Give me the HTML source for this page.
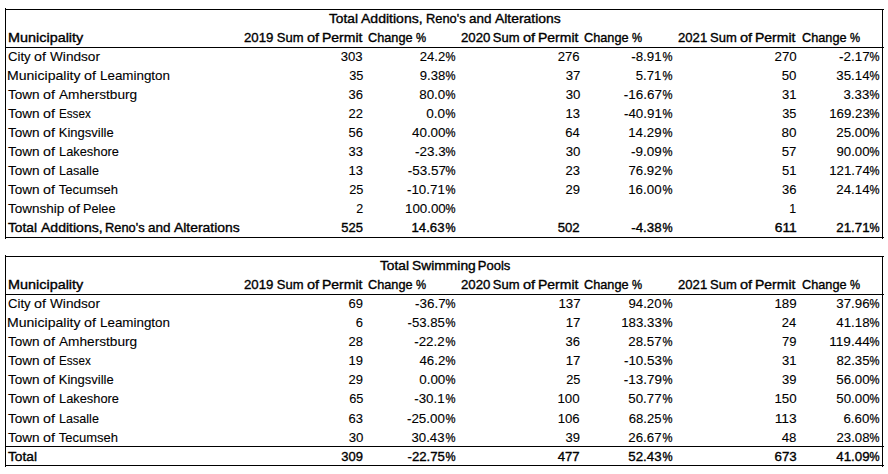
<!DOCTYPE html>
<html><head><meta charset="utf-8"><style>
html,body{margin:0;padding:0;background:#fff;}
body{width:888px;height:474px;position:relative;overflow:hidden;}
.t{position:absolute;font-family:"Liberation Sans",sans-serif;font-size:13px;line-height:15px;color:#000;white-space:nowrap;transform-origin:0 0;}
.r{transform-origin:100% 0;}
.ln{position:absolute;background:#000;}
</style></head><body>
<div class="t" style="left:328.93px;top:11px;font-weight:400;-webkit-text-stroke:0.35px #000;transform:scaleX(1.0561)">Total</div>
<div class="t" style="left:361.44px;top:11px;font-weight:400;-webkit-text-stroke:0.35px #000;transform:scaleX(1.0800)">Additions,</div>
<div class="t" style="left:425.94px;top:11px;font-weight:400;-webkit-text-stroke:0.35px #000;transform:scaleX(0.9871)">Reno's</div>
<div class="t" style="left:468.91px;top:11px;font-weight:400;-webkit-text-stroke:0.35px #000;transform:scaleX(1.0366)">and</div>
<div class="t" style="left:495.19px;top:11px;font-weight:400;-webkit-text-stroke:0.35px #000;transform:scaleX(1.0691)">Alterations</div>
<div class="t" style="left:7.89px;top:30px;font-weight:400;-webkit-text-stroke:0.35px #000;transform:scaleX(1.1082)">Municipality</div>
<div class="t" style="left:244.49px;top:30px;font-weight:400;-webkit-text-stroke:0.35px #000;transform:scaleX(1.0179)">2019</div>
<div class="t" style="left:276.75px;top:30px;font-weight:400;-webkit-text-stroke:0.35px #000;transform:scaleX(1.0000)">Sum</div>
<div class="t" style="left:306.94px;top:30px;font-weight:400;-webkit-text-stroke:0.35px #000;transform:scaleX(1.1190)">of</div>
<div class="t" style="left:322.17px;top:30px;font-weight:400;-webkit-text-stroke:0.35px #000;transform:scaleX(1.0753)">Permit</div>
<div class="t" style="left:368.31px;top:30px;font-weight:400;-webkit-text-stroke:0.35px #000;transform:scaleX(0.9777)">Change</div>
<div class="t" style="left:416.33px;top:30px;font-weight:400;-webkit-text-stroke:0.4px #000;transform:scaleX(0.8727)">%</div>
<div class="t" style="left:460.59px;top:30px;font-weight:400;-webkit-text-stroke:0.35px #000;transform:scaleX(1.0179)">2020</div>
<div class="t" style="left:492.85px;top:30px;font-weight:400;-webkit-text-stroke:0.35px #000;transform:scaleX(1.0000)">Sum</div>
<div class="t" style="left:523.04px;top:30px;font-weight:400;-webkit-text-stroke:0.35px #000;transform:scaleX(1.1190)">of</div>
<div class="t" style="left:538.27px;top:30px;font-weight:400;-webkit-text-stroke:0.35px #000;transform:scaleX(1.0753)">Permit</div>
<div class="t" style="left:584.41px;top:30px;font-weight:400;-webkit-text-stroke:0.35px #000;transform:scaleX(0.9777)">Change</div>
<div class="t" style="left:632.43px;top:30px;font-weight:400;-webkit-text-stroke:0.4px #000;transform:scaleX(0.8727)">%</div>
<div class="t" style="left:677.80px;top:30px;font-weight:400;-webkit-text-stroke:0.35px #000;transform:scaleX(1.0089)">2021</div>
<div class="t" style="left:710.05px;top:30px;font-weight:400;-webkit-text-stroke:0.35px #000;transform:scaleX(1.0000)">Sum</div>
<div class="t" style="left:740.24px;top:30px;font-weight:400;-webkit-text-stroke:0.35px #000;transform:scaleX(1.1190)">of</div>
<div class="t" style="left:755.47px;top:30px;font-weight:400;-webkit-text-stroke:0.35px #000;transform:scaleX(1.0753)">Permit</div>
<div class="t" style="left:801.51px;top:30px;font-weight:400;-webkit-text-stroke:0.35px #000;transform:scaleX(0.9777)">Change</div>
<div class="t" style="left:849.53px;top:30px;font-weight:400;-webkit-text-stroke:0.4px #000;transform:scaleX(0.8727)">%</div>
<div class="t" style="left:7.99px;top:49px;font-weight:400;-webkit-text-stroke:0.1px #000;transform:scaleX(1.0115)">City</div>
<div class="t" style="left:33.95px;top:49px;font-weight:400;-webkit-text-stroke:0.1px #000;transform:scaleX(1.0952)">of</div>
<div class="t" style="left:49.75px;top:49px;font-weight:400;-webkit-text-stroke:0.1px #000;transform:scaleX(1.0474)">Windsor</div>
<div class="t r" style="right:524.94px;top:49px;font-weight:400;-webkit-text-stroke:0.1px #000;transform:scaleX(1.0120)">303</div>
<div class="t r" style="right:442.98px;top:49px;font-weight:400;-webkit-text-stroke:0.1px #000;transform:scaleX(1.0103)">24.2</div>
<div class="t r" style="right:432.53px;top:49px;font-weight:400;-webkit-text-stroke:0.25px #000;transform:scaleX(0.8651)">%</div>
<div class="t r" style="right:308.04px;top:49px;font-weight:400;-webkit-text-stroke:0.1px #000;transform:scaleX(1.0120)">276</div>
<div class="t r" style="right:226.29px;top:49px;font-weight:400;-webkit-text-stroke:0.1px #000;transform:scaleX(1.0263)">-8.91</div>
<div class="t r" style="right:215.93px;top:49px;font-weight:400;-webkit-text-stroke:0.25px #000;transform:scaleX(0.8651)">%</div>
<div class="t r" style="right:91.44px;top:49px;font-weight:400;-webkit-text-stroke:0.1px #000;transform:scaleX(1.0241)">270</div>
<div class="t r" style="right:18.34px;top:49px;font-weight:400;-webkit-text-stroke:0.1px #000;transform:scaleX(1.0351)">-2.17</div>
<div class="t r" style="right:8.23px;top:49px;font-weight:400;-webkit-text-stroke:0.25px #000;transform:scaleX(0.8651)">%</div>
<div class="t" style="left:7.42px;top:68px;font-weight:400;-webkit-text-stroke:0.1px #000;transform:scaleX(1.0821)">Municipality</div>
<div class="t" style="left:84.45px;top:68px;font-weight:400;-webkit-text-stroke:0.1px #000;transform:scaleX(1.0952)">of</div>
<div class="t" style="left:99.72px;top:68px;font-weight:400;-webkit-text-stroke:0.1px #000;transform:scaleX(1.0302)">Leamington</div>
<div class="t r" style="right:524.94px;top:68px;font-weight:400;-webkit-text-stroke:0.1px #000;transform:scaleX(0.9815)">35</div>
<div class="t r" style="right:442.73px;top:68px;font-weight:400;-webkit-text-stroke:0.1px #000;transform:scaleX(1.0103)">9.38</div>
<div class="t r" style="right:432.53px;top:68px;font-weight:400;-webkit-text-stroke:0.25px #000;transform:scaleX(0.8651)">%</div>
<div class="t r" style="right:308.02px;top:68px;font-weight:400;-webkit-text-stroke:0.1px #000;transform:scaleX(1.0185)">37</div>
<div class="t r" style="right:226.38px;top:68px;font-weight:400;-webkit-text-stroke:0.1px #000;transform:scaleX(1.0103)">5.71</div>
<div class="t r" style="right:215.93px;top:68px;font-weight:400;-webkit-text-stroke:0.25px #000;transform:scaleX(0.8651)">%</div>
<div class="t r" style="right:91.42px;top:68px;font-weight:400;-webkit-text-stroke:0.1px #000;transform:scaleX(1.0185)">50</div>
<div class="t r" style="right:18.45px;top:68px;font-weight:400;-webkit-text-stroke:0.1px #000;transform:scaleX(1.0236)">35.14</div>
<div class="t r" style="right:8.23px;top:68px;font-weight:400;-webkit-text-stroke:0.25px #000;transform:scaleX(0.8651)">%</div>
<div class="t" style="left:8.24px;top:87px;font-weight:400;-webkit-text-stroke:0.1px #000;transform:scaleX(1.0427)">Town</div>
<div class="t" style="left:43.20px;top:87px;font-weight:400;-webkit-text-stroke:0.1px #000;transform:scaleX(1.0952)">of</div>
<div class="t" style="left:58.75px;top:87px;font-weight:400;-webkit-text-stroke:0.1px #000;transform:scaleX(1.0508)">Amherstburg</div>
<div class="t r" style="right:524.93px;top:87px;font-weight:400;-webkit-text-stroke:0.1px #000;transform:scaleX(1.0000)">36</div>
<div class="t r" style="right:442.72px;top:87px;font-weight:400;-webkit-text-stroke:0.1px #000;transform:scaleX(1.0309)">80.0</div>
<div class="t r" style="right:432.53px;top:87px;font-weight:400;-webkit-text-stroke:0.25px #000;transform:scaleX(0.8651)">%</div>
<div class="t r" style="right:308.02px;top:87px;font-weight:400;-webkit-text-stroke:0.1px #000;transform:scaleX(1.0185)">30</div>
<div class="t r" style="right:225.80px;top:87px;font-weight:400;-webkit-text-stroke:0.1px #000;transform:scaleX(1.0350)">-16.67</div>
<div class="t r" style="right:215.93px;top:87px;font-weight:400;-webkit-text-stroke:0.25px #000;transform:scaleX(0.8651)">%</div>
<div class="t r" style="right:91.43px;top:87px;font-weight:400;-webkit-text-stroke:0.1px #000;transform:scaleX(1.0000)">31</div>
<div class="t r" style="right:18.43px;top:87px;font-weight:400;-webkit-text-stroke:0.1px #000;transform:scaleX(1.0206)">3.33</div>
<div class="t r" style="right:8.23px;top:87px;font-weight:400;-webkit-text-stroke:0.25px #000;transform:scaleX(0.8651)">%</div>
<div class="t" style="left:8.24px;top:106px;font-weight:400;-webkit-text-stroke:0.1px #000;transform:scaleX(1.0427)">Town</div>
<div class="t" style="left:43.20px;top:106px;font-weight:400;-webkit-text-stroke:0.1px #000;transform:scaleX(1.0952)">of</div>
<div class="t" style="left:58.85px;top:106px;font-weight:400;-webkit-text-stroke:0.1px #000;transform:scaleX(0.8978)">Essex</div>
<div class="t r" style="right:524.93px;top:106px;font-weight:400;-webkit-text-stroke:0.1px #000;transform:scaleX(1.0000)">22</div>
<div class="t r" style="right:442.45px;top:106px;font-weight:400;-webkit-text-stroke:0.1px #000;transform:scaleX(1.0441)">0.0</div>
<div class="t r" style="right:432.53px;top:106px;font-weight:400;-webkit-text-stroke:0.25px #000;transform:scaleX(0.8651)">%</div>
<div class="t r" style="right:308.03px;top:106px;font-weight:400;-webkit-text-stroke:0.1px #000;transform:scaleX(1.0000)">13</div>
<div class="t r" style="right:226.06px;top:106px;font-weight:400;-webkit-text-stroke:0.1px #000;transform:scaleX(1.0280)">-40.91</div>
<div class="t r" style="right:215.93px;top:106px;font-weight:400;-webkit-text-stroke:0.25px #000;transform:scaleX(0.8651)">%</div>
<div class="t r" style="right:91.44px;top:106px;font-weight:400;-webkit-text-stroke:0.1px #000;transform:scaleX(0.9815)">35</div>
<div class="t r" style="right:18.47px;top:106px;font-weight:400;-webkit-text-stroke:0.1px #000;transform:scaleX(1.0196)">169.23</div>
<div class="t r" style="right:8.23px;top:106px;font-weight:400;-webkit-text-stroke:0.25px #000;transform:scaleX(0.8651)">%</div>
<div class="t" style="left:8.24px;top:125px;font-weight:400;-webkit-text-stroke:0.1px #000;transform:scaleX(1.0427)">Town</div>
<div class="t" style="left:43.20px;top:125px;font-weight:400;-webkit-text-stroke:0.1px #000;transform:scaleX(1.0952)">of</div>
<div class="t" style="left:58.75px;top:125px;font-weight:400;-webkit-text-stroke:0.1px #000;transform:scaleX(1.0000)">Kingsville</div>
<div class="t r" style="right:524.93px;top:125px;font-weight:400;-webkit-text-stroke:0.1px #000;transform:scaleX(1.0000)">56</div>
<div class="t r" style="right:442.74px;top:125px;font-weight:400;-webkit-text-stroke:0.1px #000;transform:scaleX(1.0315)">40.00</div>
<div class="t r" style="right:432.53px;top:125px;font-weight:400;-webkit-text-stroke:0.25px #000;transform:scaleX(0.8651)">%</div>
<div class="t r" style="right:308.28px;top:125px;font-weight:400;-webkit-text-stroke:0.1px #000;transform:scaleX(1.0000)">64</div>
<div class="t r" style="right:226.14px;top:125px;font-weight:400;-webkit-text-stroke:0.1px #000;transform:scaleX(1.0242)">14.29</div>
<div class="t r" style="right:215.93px;top:125px;font-weight:400;-webkit-text-stroke:0.25px #000;transform:scaleX(0.8651)">%</div>
<div class="t r" style="right:91.41px;top:125px;font-weight:400;-webkit-text-stroke:0.1px #000;transform:scaleX(1.0370)">80</div>
<div class="t r" style="right:18.44px;top:125px;font-weight:400;-webkit-text-stroke:0.1px #000;transform:scaleX(1.0238)">25.00</div>
<div class="t r" style="right:8.23px;top:125px;font-weight:400;-webkit-text-stroke:0.25px #000;transform:scaleX(0.8651)">%</div>
<div class="t" style="left:8.24px;top:144px;font-weight:400;-webkit-text-stroke:0.1px #000;transform:scaleX(1.0427)">Town</div>
<div class="t" style="left:43.20px;top:144px;font-weight:400;-webkit-text-stroke:0.1px #000;transform:scaleX(1.0952)">of</div>
<div class="t" style="left:58.76px;top:144px;font-weight:400;-webkit-text-stroke:0.1px #000;transform:scaleX(0.9873)">Lakeshore</div>
<div class="t r" style="right:524.93px;top:144px;font-weight:400;-webkit-text-stroke:0.1px #000;transform:scaleX(1.0000)">33</div>
<div class="t r" style="right:442.64px;top:144px;font-weight:400;-webkit-text-stroke:0.1px #000;transform:scaleX(1.0351)">-23.3</div>
<div class="t r" style="right:432.53px;top:144px;font-weight:400;-webkit-text-stroke:0.25px #000;transform:scaleX(0.8651)">%</div>
<div class="t r" style="right:308.02px;top:144px;font-weight:400;-webkit-text-stroke:0.1px #000;transform:scaleX(1.0185)">30</div>
<div class="t r" style="right:226.04px;top:144px;font-weight:400;-webkit-text-stroke:0.1px #000;transform:scaleX(1.0351)">-9.09</div>
<div class="t r" style="right:215.93px;top:144px;font-weight:400;-webkit-text-stroke:0.25px #000;transform:scaleX(0.8651)">%</div>
<div class="t r" style="right:91.42px;top:144px;font-weight:400;-webkit-text-stroke:0.1px #000;transform:scaleX(1.0185)">57</div>
<div class="t r" style="right:18.44px;top:144px;font-weight:400;-webkit-text-stroke:0.1px #000;transform:scaleX(1.0159)">90.00</div>
<div class="t r" style="right:8.23px;top:144px;font-weight:400;-webkit-text-stroke:0.25px #000;transform:scaleX(0.8651)">%</div>
<div class="t" style="left:8.24px;top:163px;font-weight:400;-webkit-text-stroke:0.1px #000;transform:scaleX(1.0427)">Town</div>
<div class="t" style="left:43.20px;top:163px;font-weight:400;-webkit-text-stroke:0.1px #000;transform:scaleX(1.0952)">of</div>
<div class="t" style="left:58.78px;top:163px;font-weight:400;-webkit-text-stroke:0.1px #000;transform:scaleX(0.9686)">Lasalle</div>
<div class="t r" style="right:524.93px;top:163px;font-weight:400;-webkit-text-stroke:0.1px #000;transform:scaleX(1.0000)">13</div>
<div class="t r" style="right:442.40px;top:163px;font-weight:400;-webkit-text-stroke:0.1px #000;transform:scaleX(1.0350)">-53.57</div>
<div class="t r" style="right:432.53px;top:163px;font-weight:400;-webkit-text-stroke:0.25px #000;transform:scaleX(0.8651)">%</div>
<div class="t r" style="right:308.03px;top:163px;font-weight:400;-webkit-text-stroke:0.1px #000;transform:scaleX(1.0000)">23</div>
<div class="t r" style="right:226.39px;top:163px;font-weight:400;-webkit-text-stroke:0.1px #000;transform:scaleX(1.0159)">76.92</div>
<div class="t r" style="right:215.93px;top:163px;font-weight:400;-webkit-text-stroke:0.25px #000;transform:scaleX(0.8651)">%</div>
<div class="t r" style="right:91.43px;top:163px;font-weight:400;-webkit-text-stroke:0.1px #000;transform:scaleX(1.0000)">51</div>
<div class="t r" style="right:18.48px;top:163px;font-weight:400;-webkit-text-stroke:0.1px #000;transform:scaleX(1.0195)">121.74</div>
<div class="t r" style="right:8.23px;top:163px;font-weight:400;-webkit-text-stroke:0.25px #000;transform:scaleX(0.8651)">%</div>
<div class="t" style="left:8.24px;top:182px;font-weight:400;-webkit-text-stroke:0.1px #000;transform:scaleX(1.0427)">Town</div>
<div class="t" style="left:43.20px;top:182px;font-weight:400;-webkit-text-stroke:0.1px #000;transform:scaleX(1.0952)">of</div>
<div class="t" style="left:58.75px;top:182px;font-weight:400;-webkit-text-stroke:0.1px #000;transform:scaleX(1.0000)">Tecumseh</div>
<div class="t r" style="right:524.94px;top:182px;font-weight:400;-webkit-text-stroke:0.1px #000;transform:scaleX(0.9815)">25</div>
<div class="t r" style="right:442.66px;top:182px;font-weight:400;-webkit-text-stroke:0.1px #000;transform:scaleX(1.0280)">-10.71</div>
<div class="t r" style="right:432.53px;top:182px;font-weight:400;-webkit-text-stroke:0.25px #000;transform:scaleX(0.8651)">%</div>
<div class="t r" style="right:308.03px;top:182px;font-weight:400;-webkit-text-stroke:0.1px #000;transform:scaleX(1.0000)">29</div>
<div class="t r" style="right:226.14px;top:182px;font-weight:400;-webkit-text-stroke:0.1px #000;transform:scaleX(1.0242)">16.00</div>
<div class="t r" style="right:215.93px;top:182px;font-weight:400;-webkit-text-stroke:0.25px #000;transform:scaleX(0.8651)">%</div>
<div class="t r" style="right:91.43px;top:182px;font-weight:400;-webkit-text-stroke:0.1px #000;transform:scaleX(1.0000)">36</div>
<div class="t r" style="right:18.45px;top:182px;font-weight:400;-webkit-text-stroke:0.1px #000;transform:scaleX(1.0236)">24.14</div>
<div class="t r" style="right:8.23px;top:182px;font-weight:400;-webkit-text-stroke:0.25px #000;transform:scaleX(0.8651)">%</div>
<div class="t" style="left:8.24px;top:201px;font-weight:400;-webkit-text-stroke:0.1px #000;transform:scaleX(1.0374)">Township</div>
<div class="t" style="left:67.70px;top:201px;font-weight:400;-webkit-text-stroke:0.1px #000;transform:scaleX(1.0952)">of</div>
<div class="t" style="left:83.27px;top:201px;font-weight:400;-webkit-text-stroke:0.1px #000;transform:scaleX(0.9764)">Pelee</div>
<div class="t r" style="right:524.93px;top:201px;font-weight:400;-webkit-text-stroke:0.1px #000;transform:scaleX(0.9600)">2</div>
<div class="t r" style="right:442.52px;top:201px;font-weight:400;-webkit-text-stroke:0.1px #000;transform:scaleX(1.0261)">100.00</div>
<div class="t r" style="right:432.53px;top:201px;font-weight:400;-webkit-text-stroke:0.25px #000;transform:scaleX(0.8651)">%</div>
<div class="t r" style="right:91.44px;top:201px;font-weight:400;-webkit-text-stroke:0.1px #000;transform:scaleX(0.9565)">1</div>
<div class="t" style="left:8.20px;top:220px;font-weight:400;-webkit-text-stroke:0.35px #000;transform:scaleX(1.0561)">Total</div>
<div class="t" style="left:40.72px;top:220px;font-weight:400;-webkit-text-stroke:0.35px #000;transform:scaleX(1.0800)">Additions,</div>
<div class="t" style="left:105.21px;top:220px;font-weight:400;-webkit-text-stroke:0.35px #000;transform:scaleX(0.9871)">Reno's</div>
<div class="t" style="left:148.18px;top:220px;font-weight:400;-webkit-text-stroke:0.35px #000;transform:scaleX(1.0366)">and</div>
<div class="t" style="left:174.47px;top:220px;font-weight:400;-webkit-text-stroke:0.35px #000;transform:scaleX(1.0691)">Alterations</div>
<div class="t r" style="right:524.95px;top:220px;font-weight:400;-webkit-text-stroke:0.35px #000;transform:scaleX(1.0000)">525</div>
<div class="t r" style="right:443.00px;top:220px;font-weight:400;-webkit-text-stroke:0.35px #000;transform:scaleX(1.0159)">14.63</div>
<div class="t r" style="right:432.53px;top:220px;font-weight:400;-webkit-text-stroke:0.4px #000;transform:scaleX(0.8727)">%</div>
<div class="t r" style="right:308.04px;top:220px;font-weight:400;-webkit-text-stroke:0.35px #000;transform:scaleX(1.0120)">502</div>
<div class="t r" style="right:226.30px;top:220px;font-weight:400;-webkit-text-stroke:0.35px #000;transform:scaleX(1.0261)">-4.38</div>
<div class="t r" style="right:215.93px;top:220px;font-weight:400;-webkit-text-stroke:0.4px #000;transform:scaleX(0.8727)">%</div>
<div class="t r" style="right:91.38px;top:220px;font-weight:400;-webkit-text-stroke:0.35px #000;transform:scaleX(1.0633)">611</div>
<div class="t r" style="right:18.69px;top:220px;font-weight:400;-webkit-text-stroke:0.35px #000;transform:scaleX(1.0238)">21.71</div>
<div class="t r" style="right:8.23px;top:220px;font-weight:400;-webkit-text-stroke:0.4px #000;transform:scaleX(0.8727)">%</div>
<div class="t" style="left:379.55px;top:258px;font-weight:400;-webkit-text-stroke:0.35px #000;transform:scaleX(1.0561)">Total</div>
<div class="t" style="left:411.52px;top:258px;font-weight:400;-webkit-text-stroke:0.35px #000;transform:scaleX(1.0638)">Swimming</div>
<div class="t" style="left:477.80px;top:258px;font-weight:400;-webkit-text-stroke:0.35px #000;transform:scaleX(1.0000)">Pools</div>
<div class="t" style="left:7.89px;top:277px;font-weight:400;-webkit-text-stroke:0.35px #000;transform:scaleX(1.1082)">Municipality</div>
<div class="t" style="left:244.49px;top:277px;font-weight:400;-webkit-text-stroke:0.35px #000;transform:scaleX(1.0179)">2019</div>
<div class="t" style="left:276.75px;top:277px;font-weight:400;-webkit-text-stroke:0.35px #000;transform:scaleX(1.0000)">Sum</div>
<div class="t" style="left:306.94px;top:277px;font-weight:400;-webkit-text-stroke:0.35px #000;transform:scaleX(1.1190)">of</div>
<div class="t" style="left:322.17px;top:277px;font-weight:400;-webkit-text-stroke:0.35px #000;transform:scaleX(1.0753)">Permit</div>
<div class="t" style="left:368.31px;top:277px;font-weight:400;-webkit-text-stroke:0.35px #000;transform:scaleX(0.9777)">Change</div>
<div class="t" style="left:416.33px;top:277px;font-weight:400;-webkit-text-stroke:0.4px #000;transform:scaleX(0.8727)">%</div>
<div class="t" style="left:460.59px;top:277px;font-weight:400;-webkit-text-stroke:0.35px #000;transform:scaleX(1.0179)">2020</div>
<div class="t" style="left:492.85px;top:277px;font-weight:400;-webkit-text-stroke:0.35px #000;transform:scaleX(1.0000)">Sum</div>
<div class="t" style="left:523.04px;top:277px;font-weight:400;-webkit-text-stroke:0.35px #000;transform:scaleX(1.1190)">of</div>
<div class="t" style="left:538.27px;top:277px;font-weight:400;-webkit-text-stroke:0.35px #000;transform:scaleX(1.0753)">Permit</div>
<div class="t" style="left:584.41px;top:277px;font-weight:400;-webkit-text-stroke:0.35px #000;transform:scaleX(0.9777)">Change</div>
<div class="t" style="left:632.43px;top:277px;font-weight:400;-webkit-text-stroke:0.4px #000;transform:scaleX(0.8727)">%</div>
<div class="t" style="left:677.80px;top:277px;font-weight:400;-webkit-text-stroke:0.35px #000;transform:scaleX(1.0089)">2021</div>
<div class="t" style="left:710.05px;top:277px;font-weight:400;-webkit-text-stroke:0.35px #000;transform:scaleX(1.0000)">Sum</div>
<div class="t" style="left:740.24px;top:277px;font-weight:400;-webkit-text-stroke:0.35px #000;transform:scaleX(1.1190)">of</div>
<div class="t" style="left:755.47px;top:277px;font-weight:400;-webkit-text-stroke:0.35px #000;transform:scaleX(1.0753)">Permit</div>
<div class="t" style="left:801.51px;top:277px;font-weight:400;-webkit-text-stroke:0.35px #000;transform:scaleX(0.9777)">Change</div>
<div class="t" style="left:849.53px;top:277px;font-weight:400;-webkit-text-stroke:0.4px #000;transform:scaleX(0.8727)">%</div>
<div class="t" style="left:7.99px;top:296px;font-weight:400;-webkit-text-stroke:0.1px #000;transform:scaleX(1.0115)">City</div>
<div class="t" style="left:33.95px;top:296px;font-weight:400;-webkit-text-stroke:0.1px #000;transform:scaleX(1.0952)">of</div>
<div class="t" style="left:49.75px;top:296px;font-weight:400;-webkit-text-stroke:0.1px #000;transform:scaleX(1.0474)">Windsor</div>
<div class="t r" style="right:524.93px;top:296px;font-weight:400;-webkit-text-stroke:0.1px #000;transform:scaleX(1.0000)">69</div>
<div class="t r" style="right:442.64px;top:296px;font-weight:400;-webkit-text-stroke:0.1px #000;transform:scaleX(1.0351)">-36.7</div>
<div class="t r" style="right:432.53px;top:296px;font-weight:400;-webkit-text-stroke:0.25px #000;transform:scaleX(0.8651)">%</div>
<div class="t r" style="right:307.78px;top:296px;font-weight:400;-webkit-text-stroke:0.1px #000;transform:scaleX(1.0250)">137</div>
<div class="t r" style="right:226.14px;top:296px;font-weight:400;-webkit-text-stroke:0.1px #000;transform:scaleX(1.0159)">94.20</div>
<div class="t r" style="right:215.93px;top:296px;font-weight:400;-webkit-text-stroke:0.25px #000;transform:scaleX(0.8651)">%</div>
<div class="t r" style="right:91.18px;top:296px;font-weight:400;-webkit-text-stroke:0.1px #000;transform:scaleX(1.0250)">189</div>
<div class="t r" style="right:18.44px;top:296px;font-weight:400;-webkit-text-stroke:0.1px #000;transform:scaleX(1.0238)">37.96</div>
<div class="t r" style="right:8.23px;top:296px;font-weight:400;-webkit-text-stroke:0.25px #000;transform:scaleX(0.8651)">%</div>
<div class="t" style="left:7.42px;top:315px;font-weight:400;-webkit-text-stroke:0.1px #000;transform:scaleX(1.0821)">Municipality</div>
<div class="t" style="left:84.45px;top:315px;font-weight:400;-webkit-text-stroke:0.1px #000;transform:scaleX(1.0952)">of</div>
<div class="t" style="left:99.72px;top:315px;font-weight:400;-webkit-text-stroke:0.1px #000;transform:scaleX(1.0302)">Leamington</div>
<div class="t r" style="right:524.92px;top:315px;font-weight:400;-webkit-text-stroke:0.1px #000;transform:scaleX(1.0000)">6</div>
<div class="t r" style="right:443.17px;top:315px;font-weight:400;-webkit-text-stroke:0.1px #000;transform:scaleX(1.0139)">-53.85</div>
<div class="t r" style="right:432.53px;top:315px;font-weight:400;-webkit-text-stroke:0.25px #000;transform:scaleX(0.8651)">%</div>
<div class="t r" style="right:308.02px;top:315px;font-weight:400;-webkit-text-stroke:0.1px #000;transform:scaleX(1.0192)">17</div>
<div class="t r" style="right:226.17px;top:315px;font-weight:400;-webkit-text-stroke:0.1px #000;transform:scaleX(1.0196)">183.33</div>
<div class="t r" style="right:215.93px;top:315px;font-weight:400;-webkit-text-stroke:0.25px #000;transform:scaleX(0.8651)">%</div>
<div class="t r" style="right:91.68px;top:315px;font-weight:400;-webkit-text-stroke:0.1px #000;transform:scaleX(1.0000)">24</div>
<div class="t r" style="right:18.69px;top:315px;font-weight:400;-webkit-text-stroke:0.1px #000;transform:scaleX(1.0236)">41.18</div>
<div class="t r" style="right:8.23px;top:315px;font-weight:400;-webkit-text-stroke:0.25px #000;transform:scaleX(0.8651)">%</div>
<div class="t" style="left:8.24px;top:334px;font-weight:400;-webkit-text-stroke:0.1px #000;transform:scaleX(1.0427)">Town</div>
<div class="t" style="left:43.20px;top:334px;font-weight:400;-webkit-text-stroke:0.1px #000;transform:scaleX(1.0952)">of</div>
<div class="t" style="left:58.75px;top:334px;font-weight:400;-webkit-text-stroke:0.1px #000;transform:scaleX(1.0508)">Amherstburg</div>
<div class="t r" style="right:524.93px;top:334px;font-weight:400;-webkit-text-stroke:0.1px #000;transform:scaleX(1.0000)">28</div>
<div class="t r" style="right:442.89px;top:334px;font-weight:400;-webkit-text-stroke:0.1px #000;transform:scaleX(1.0263)">-22.2</div>
<div class="t r" style="right:432.53px;top:334px;font-weight:400;-webkit-text-stroke:0.25px #000;transform:scaleX(0.8651)">%</div>
<div class="t r" style="right:308.03px;top:334px;font-weight:400;-webkit-text-stroke:0.1px #000;transform:scaleX(1.0000)">36</div>
<div class="t r" style="right:226.14px;top:334px;font-weight:400;-webkit-text-stroke:0.1px #000;transform:scaleX(1.0238)">28.57</div>
<div class="t r" style="right:215.93px;top:334px;font-weight:400;-webkit-text-stroke:0.25px #000;transform:scaleX(0.8651)">%</div>
<div class="t r" style="right:91.43px;top:334px;font-weight:400;-webkit-text-stroke:0.1px #000;transform:scaleX(1.0000)">79</div>
<div class="t r" style="right:18.44px;top:334px;font-weight:400;-webkit-text-stroke:0.1px #000;transform:scaleX(1.0467)">119.44</div>
<div class="t r" style="right:8.23px;top:334px;font-weight:400;-webkit-text-stroke:0.25px #000;transform:scaleX(0.8651)">%</div>
<div class="t" style="left:8.24px;top:353px;font-weight:400;-webkit-text-stroke:0.1px #000;transform:scaleX(1.0427)">Town</div>
<div class="t" style="left:43.20px;top:353px;font-weight:400;-webkit-text-stroke:0.1px #000;transform:scaleX(1.0952)">of</div>
<div class="t" style="left:58.85px;top:353px;font-weight:400;-webkit-text-stroke:0.1px #000;transform:scaleX(0.8978)">Essex</div>
<div class="t r" style="right:524.93px;top:353px;font-weight:400;-webkit-text-stroke:0.1px #000;transform:scaleX(1.0000)">19</div>
<div class="t r" style="right:442.98px;top:353px;font-weight:400;-webkit-text-stroke:0.1px #000;transform:scaleX(1.0204)">46.2</div>
<div class="t r" style="right:432.53px;top:353px;font-weight:400;-webkit-text-stroke:0.25px #000;transform:scaleX(0.8651)">%</div>
<div class="t r" style="right:308.02px;top:353px;font-weight:400;-webkit-text-stroke:0.1px #000;transform:scaleX(1.0192)">17</div>
<div class="t r" style="right:226.06px;top:353px;font-weight:400;-webkit-text-stroke:0.1px #000;transform:scaleX(1.0280)">-10.53</div>
<div class="t r" style="right:215.93px;top:353px;font-weight:400;-webkit-text-stroke:0.25px #000;transform:scaleX(0.8651)">%</div>
<div class="t r" style="right:91.43px;top:353px;font-weight:400;-webkit-text-stroke:0.1px #000;transform:scaleX(1.0000)">31</div>
<div class="t r" style="right:18.94px;top:353px;font-weight:400;-webkit-text-stroke:0.1px #000;transform:scaleX(1.0159)">82.35</div>
<div class="t r" style="right:8.23px;top:353px;font-weight:400;-webkit-text-stroke:0.25px #000;transform:scaleX(0.8651)">%</div>
<div class="t" style="left:8.24px;top:372px;font-weight:400;-webkit-text-stroke:0.1px #000;transform:scaleX(1.0427)">Town</div>
<div class="t" style="left:43.20px;top:372px;font-weight:400;-webkit-text-stroke:0.1px #000;transform:scaleX(1.0952)">of</div>
<div class="t" style="left:58.75px;top:372px;font-weight:400;-webkit-text-stroke:0.1px #000;transform:scaleX(1.0000)">Kingsville</div>
<div class="t r" style="right:524.93px;top:372px;font-weight:400;-webkit-text-stroke:0.1px #000;transform:scaleX(1.0000)">29</div>
<div class="t r" style="right:442.72px;top:372px;font-weight:400;-webkit-text-stroke:0.1px #000;transform:scaleX(1.0309)">0.00</div>
<div class="t r" style="right:432.53px;top:372px;font-weight:400;-webkit-text-stroke:0.25px #000;transform:scaleX(0.8651)">%</div>
<div class="t r" style="right:308.04px;top:372px;font-weight:400;-webkit-text-stroke:0.1px #000;transform:scaleX(0.9815)">25</div>
<div class="t r" style="right:225.80px;top:372px;font-weight:400;-webkit-text-stroke:0.1px #000;transform:scaleX(1.0350)">-13.79</div>
<div class="t r" style="right:215.93px;top:372px;font-weight:400;-webkit-text-stroke:0.25px #000;transform:scaleX(0.8651)">%</div>
<div class="t r" style="right:91.43px;top:372px;font-weight:400;-webkit-text-stroke:0.1px #000;transform:scaleX(1.0000)">39</div>
<div class="t r" style="right:18.44px;top:372px;font-weight:400;-webkit-text-stroke:0.1px #000;transform:scaleX(1.0238)">56.00</div>
<div class="t r" style="right:8.23px;top:372px;font-weight:400;-webkit-text-stroke:0.25px #000;transform:scaleX(0.8651)">%</div>
<div class="t" style="left:8.24px;top:391px;font-weight:400;-webkit-text-stroke:0.1px #000;transform:scaleX(1.0427)">Town</div>
<div class="t" style="left:43.20px;top:391px;font-weight:400;-webkit-text-stroke:0.1px #000;transform:scaleX(1.0952)">of</div>
<div class="t" style="left:58.76px;top:391px;font-weight:400;-webkit-text-stroke:0.1px #000;transform:scaleX(0.9873)">Lakeshore</div>
<div class="t r" style="right:524.94px;top:391px;font-weight:400;-webkit-text-stroke:0.1px #000;transform:scaleX(0.9815)">65</div>
<div class="t r" style="right:442.89px;top:391px;font-weight:400;-webkit-text-stroke:0.1px #000;transform:scaleX(1.0263)">-30.1</div>
<div class="t r" style="right:432.53px;top:391px;font-weight:400;-webkit-text-stroke:0.25px #000;transform:scaleX(0.8651)">%</div>
<div class="t r" style="right:308.04px;top:391px;font-weight:400;-webkit-text-stroke:0.1px #000;transform:scaleX(1.0247)">100</div>
<div class="t r" style="right:226.14px;top:391px;font-weight:400;-webkit-text-stroke:0.1px #000;transform:scaleX(1.0238)">50.77</div>
<div class="t r" style="right:215.93px;top:391px;font-weight:400;-webkit-text-stroke:0.25px #000;transform:scaleX(0.8651)">%</div>
<div class="t r" style="right:91.44px;top:391px;font-weight:400;-webkit-text-stroke:0.1px #000;transform:scaleX(1.0247)">150</div>
<div class="t r" style="right:18.44px;top:391px;font-weight:400;-webkit-text-stroke:0.1px #000;transform:scaleX(1.0238)">50.00</div>
<div class="t r" style="right:8.23px;top:391px;font-weight:400;-webkit-text-stroke:0.25px #000;transform:scaleX(0.8651)">%</div>
<div class="t" style="left:8.24px;top:411px;font-weight:400;-webkit-text-stroke:0.1px #000;transform:scaleX(1.0427)">Town</div>
<div class="t" style="left:43.20px;top:411px;font-weight:400;-webkit-text-stroke:0.1px #000;transform:scaleX(1.0952)">of</div>
<div class="t" style="left:58.78px;top:411px;font-weight:400;-webkit-text-stroke:0.1px #000;transform:scaleX(0.9686)">Lasalle</div>
<div class="t r" style="right:524.93px;top:411px;font-weight:400;-webkit-text-stroke:0.1px #000;transform:scaleX(1.0000)">63</div>
<div class="t r" style="right:442.66px;top:411px;font-weight:400;-webkit-text-stroke:0.1px #000;transform:scaleX(1.0278)">-25.00</div>
<div class="t r" style="right:432.53px;top:411px;font-weight:400;-webkit-text-stroke:0.25px #000;transform:scaleX(0.8651)">%</div>
<div class="t r" style="right:308.04px;top:411px;font-weight:400;-webkit-text-stroke:0.1px #000;transform:scaleX(1.0123)">106</div>
<div class="t r" style="right:226.65px;top:411px;font-weight:400;-webkit-text-stroke:0.1px #000;transform:scaleX(1.0079)">68.25</div>
<div class="t r" style="right:215.93px;top:411px;font-weight:400;-webkit-text-stroke:0.25px #000;transform:scaleX(0.8651)">%</div>
<div class="t r" style="right:91.38px;top:411px;font-weight:400;-webkit-text-stroke:0.1px #000;transform:scaleX(1.0649)">113</div>
<div class="t r" style="right:18.43px;top:411px;font-weight:400;-webkit-text-stroke:0.1px #000;transform:scaleX(1.0206)">6.60</div>
<div class="t r" style="right:8.23px;top:411px;font-weight:400;-webkit-text-stroke:0.25px #000;transform:scaleX(0.8651)">%</div>
<div class="t" style="left:8.24px;top:430px;font-weight:400;-webkit-text-stroke:0.1px #000;transform:scaleX(1.0427)">Town</div>
<div class="t" style="left:43.20px;top:430px;font-weight:400;-webkit-text-stroke:0.1px #000;transform:scaleX(1.0952)">of</div>
<div class="t" style="left:58.75px;top:430px;font-weight:400;-webkit-text-stroke:0.1px #000;transform:scaleX(1.0000)">Tecumseh</div>
<div class="t r" style="right:524.92px;top:430px;font-weight:400;-webkit-text-stroke:0.1px #000;transform:scaleX(1.0185)">30</div>
<div class="t r" style="right:442.99px;top:430px;font-weight:400;-webkit-text-stroke:0.1px #000;transform:scaleX(1.0159)">30.43</div>
<div class="t r" style="right:432.53px;top:430px;font-weight:400;-webkit-text-stroke:0.25px #000;transform:scaleX(0.8651)">%</div>
<div class="t r" style="right:308.03px;top:430px;font-weight:400;-webkit-text-stroke:0.1px #000;transform:scaleX(1.0000)">39</div>
<div class="t r" style="right:226.14px;top:430px;font-weight:400;-webkit-text-stroke:0.1px #000;transform:scaleX(1.0238)">26.67</div>
<div class="t r" style="right:215.93px;top:430px;font-weight:400;-webkit-text-stroke:0.25px #000;transform:scaleX(0.8651)">%</div>
<div class="t r" style="right:91.42px;top:430px;font-weight:400;-webkit-text-stroke:0.1px #000;transform:scaleX(1.0182)">48</div>
<div class="t r" style="right:18.69px;top:430px;font-weight:400;-webkit-text-stroke:0.1px #000;transform:scaleX(1.0159)">23.08</div>
<div class="t r" style="right:8.23px;top:430px;font-weight:400;-webkit-text-stroke:0.25px #000;transform:scaleX(0.8651)">%</div>
<div class="t" style="left:8.20px;top:449px;font-weight:400;-webkit-text-stroke:0.35px #000;transform:scaleX(1.0561)">Total</div>
<div class="t r" style="right:524.95px;top:449px;font-weight:400;-webkit-text-stroke:0.35px #000;transform:scaleX(1.0000)">309</div>
<div class="t r" style="right:443.42px;top:449px;font-weight:400;-webkit-text-stroke:0.35px #000;transform:scaleX(1.0139)">-22.75</div>
<div class="t r" style="right:432.53px;top:449px;font-weight:400;-webkit-text-stroke:0.4px #000;transform:scaleX(0.8727)">%</div>
<div class="t r" style="right:308.04px;top:449px;font-weight:400;-webkit-text-stroke:0.35px #000;transform:scaleX(1.0118)">477</div>
<div class="t r" style="right:226.40px;top:449px;font-weight:400;-webkit-text-stroke:0.35px #000;transform:scaleX(1.0236)">52.43</div>
<div class="t r" style="right:215.93px;top:449px;font-weight:400;-webkit-text-stroke:0.4px #000;transform:scaleX(0.8727)">%</div>
<div class="t r" style="right:91.44px;top:449px;font-weight:400;-webkit-text-stroke:0.35px #000;transform:scaleX(1.0241)">673</div>
<div class="t r" style="right:18.44px;top:449px;font-weight:400;-webkit-text-stroke:0.35px #000;transform:scaleX(1.0234)">41.09</div>
<div class="t r" style="right:8.23px;top:449px;font-weight:400;-webkit-text-stroke:0.4px #000;transform:scaleX(0.8727)">%</div>
<div class="ln" style="left:5px;top:9px;width:879px;height:1px"></div>
<div class="ln" style="left:5px;top:8px;width:1px;height:231px"></div>
<div class="ln" style="left:882px;top:9px;width:1px;height:230px"></div>
<div class="ln" style="left:5px;top:47px;width:879px;height:1px"></div>
<div class="ln" style="left:5px;top:237px;width:879px;height:1px"></div>
<div class="ln" style="left:5px;top:256px;width:879px;height:1px"></div>
<div class="ln" style="left:5px;top:255px;width:1px;height:212px"></div>
<div class="ln" style="left:882px;top:256px;width:1px;height:211px"></div>
<div class="ln" style="left:5px;top:294px;width:879px;height:1px"></div>
<div class="ln" style="left:5px;top:446px;width:879px;height:1px"></div>
<div class="ln" style="left:5px;top:465px;width:879px;height:1px"></div>
</body></html>
